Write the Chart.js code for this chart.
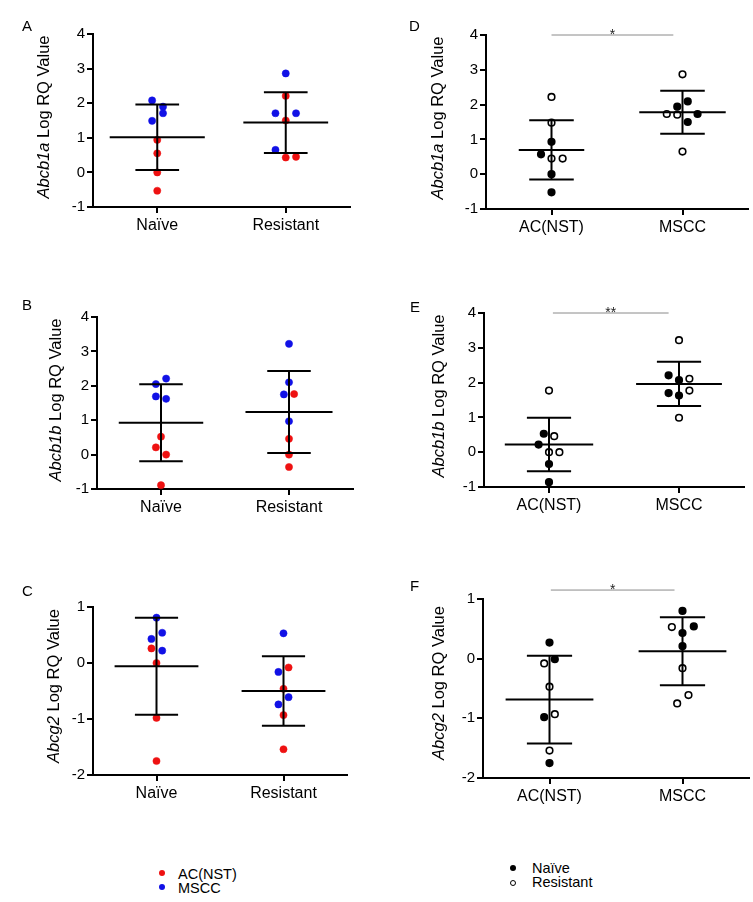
<!DOCTYPE html>
<html>
<head>
<meta charset="utf-8">
<script src="https://cdn.jsdelivr.net/npm/chart.js@4.4.0/dist/chart.umd.min.js"></script>
<style>
    body { margin: 0; background: #fff; font-family: Arial, "Liberation Sans", sans-serif; color: #000; }
    #page { position: relative; width: 753px; height: 902px; overflow: hidden; }
    canvas { position: absolute; }
    .ytitle { position: absolute; font-size: 16.5px; white-space: nowrap; transform: translate(-50%, -50%) rotate(-90deg); }
    .letter { position: absolute; font-size: 15px; line-height: 15px; }
    .leg { position: absolute; font-size: 14.5px; line-height: 14px; transform: translateY(-50%); }
    .dot { position: absolute; width: 6px; height: 6px; border-radius: 50%; transform: translate(-50%, -50%); box-sizing: border-box; }
</style>
</head>
<body>
<div id="page"></div>
<script>
// categories and tick labels
const catsTreat = ['Naïve', 'Resistant'];
const catsType = ['AC(NST)', 'MSCC'];
const ticksAbcb1 = [-1, 0, 1, 2, 3, 4];
const ticksAbcg2 = [-2, -1, 0, 1];

// A-C: dots coloured by tumour type (A = AC(NST), M = MSCC)
const aNaive = [2.08, 1.90, 1.71, 1.49, 0.94, 0.55, 0.00, -0.53];
const aNaiveKind = ['M', 'M', 'M', 'M', 'A', 'A', 'A', 'A'];
const aNaiveJit = [-0.04, 0.045, 0.045, -0.04, 0, 0, 0, 0];
const aRes = [2.86, 2.21, 1.71, 1.71, 1.50, 0.65, 0.43, 0.45];
const aResKind = ['M', 'A', 'M', 'M', 'A', 'M', 'A', 'A'];
const aResJit = [0, 0, -0.08, 0.08, 0, -0.08, 0, 0.08];

const bNaive = [2.21, 2.05, 1.69, 1.62, 0.52, 0.21, 0.00, -0.89];
const bNaiveKind = ['M', 'M', 'M', 'M', 'A', 'A', 'A', 'A'];
const bNaiveJit = [0.04, -0.04, -0.04, 0.04, 0, -0.04, 0.04, 0];
const bRes = [3.22, 2.10, 1.75, 1.76, 0.97, 0.46, 0.00, -0.36];
const bResKind = ['M', 'M', 'M', 'A', 'M', 'A', 'A', 'A'];
const bResJit = [0, 0, -0.04, 0.04, 0, 0, 0, 0];

const cNaive = [0.81, 0.54, 0.43, 0.26, 0.22, 0.00, -0.98, -1.75];
const cNaiveKind = ['M', 'M', 'M', 'A', 'M', 'A', 'A', 'A'];
const cNaiveJit = [0, 0.045, -0.04, -0.04, 0.045, 0, 0, 0];
const cRes = [0.53, -0.08, -0.16, -0.46, -0.61, -0.74, -0.93, -1.54];
const cResKind = ['M', 'A', 'M', 'A', 'M', 'M', 'A', 'A'];
const cResJit = [0, 0.04, -0.04, 0, 0.04, -0.04, 0, 0];

// D-F: filled = naive (N), open = resistant (R)
const dAC = [2.22, 1.48, 0.93, 0.57, 0.45, 0.45, 0.00, -0.52];
const dACKind = ['R', 'R', 'N', 'N', 'R', 'R', 'N', 'N'];
const dACJit = [0, 0, 0, -0.08, 0, 0.085, 0, 0];
const dMSCC = [2.87, 2.09, 1.94, 1.73, 1.71, 1.73, 1.50, 0.65];
const dMSCCKind = ['R', 'N', 'N', 'R', 'R', 'N', 'N', 'R'];
const dMSCCJit = [0, 0.04, -0.04, -0.12, -0.04, 0.115, 0.04, 0];

const eAC = [1.77, 0.53, 0.46, 0.22, 0.00, 0.00, -0.34, -0.86];
const eACKind = ['R', 'N', 'R', 'N', 'R', 'R', 'N', 'N'];
const eACJit = [0, -0.04, 0.04, -0.08, 0, 0.08, 0, 0];
const eMSCC = [3.22, 2.21, 2.07, 2.11, 1.70, 1.63, 1.77, 0.99];
const eMSCCKind = ['R', 'N', 'N', 'R', 'N', 'N', 'R', 'R'];
const eMSCCJit = [0, -0.08, 0, 0.08, -0.08, 0, 0.08, 0];

const fAC = [0.27, -0.01, -0.08, -0.47, -0.98, -0.93, -1.54, -1.75];
const fACKind = ['N', 'N', 'R', 'R', 'N', 'R', 'R', 'N'];
const fACJit = [0, 0.04, -0.04, 0, -0.04, 0.04, 0, 0];
const fMSCC = [0.80, 0.53, 0.54, 0.43, 0.21, -0.16, -0.61, -0.75];
const fMSCCKind = ['N', 'R', 'N', 'N', 'N', 'R', 'R', 'R'];
const fMSCCJit = [0, -0.08, 0.085, 0, 0, 0, 0.045, -0.04];

const RED = '#ee1111';
const BLUE = '#1111e6';

const panels = [
    { letter: 'A', gene: 'Abcb1a', area: [93, 34, 350, 207], cats: catsTreat, yTicks: ticksAbcb1, mode: 'color',
      groups: [[aNaive, aNaiveKind, aNaiveJit], [aRes, aResKind, aResJit]], meanHalf: [0.37, 0.33],
      titleAt: [43, 117], letterAt: [22, 18] },
    { letter: 'B', gene: 'Abcb1b', area: [97, 317, 353, 489], cats: catsTreat, yTicks: ticksAbcb1, mode: 'color',
      groups: [[bNaive, bNaiveKind, bNaiveJit], [bRes, bResKind, bResJit]], meanHalf: [0.33, 0.34],
      titleAt: [55, 400], letterAt: [22, 297] },
    { letter: 'C', gene: 'Abcg2', area: [93, 607, 347, 775], cats: catsTreat, yTicks: ticksAbcg2, mode: 'color',
      groups: [[cNaive, cNaiveKind, cNaiveJit], [cRes, cResKind, cResJit]], meanHalf: [0.33, 0.33],
      titleAt: [53, 686], letterAt: [22, 583] },
    { letter: 'D', gene: 'Abcb1a', area: [486, 35, 748, 209], cats: catsType, yTicks: ticksAbcb1, mode: 'fill',
      groups: [[dAC, dACKind, dACJit], [dMSCC, dMSCCKind, dMSCCJit]], meanHalf: [0.25, 0.33],
      titleAt: [437, 118], letterAt: [409, 18],
      sig: { x1: 1.0, x2: 1.93, y: 4, text: '*' } },
    { letter: 'E', gene: 'Abcb1b', area: [484, 313, 744, 487], cats: catsType, yTicks: ticksAbcb1, mode: 'fill',
      groups: [[eAC, eACKind, eACJit], [eMSCC, eMSCCKind, eMSCCJit]], meanHalf: [0.34, 0.33],
      titleAt: [438, 396], letterAt: [410, 299],
      sig: { x1: 1.03, x2: 1.92, y: 4, text: '**' } },
    { letter: 'F', gene: 'Abcg2', area: [483, 599, 749, 778], cats: catsType, yTicks: ticksAbcg2, mode: 'fill',
      groups: [[fAC, fACKind, fACJit], [fMSCC, fMSCCKind, fMSCCJit]], meanHalf: [0.33, 0.33],
      titleAt: [438, 683], letterAt: [410, 578],
      sig: { x1: 1.01, x2: 1.94, y: 1.15, text: '*' } }
];

const page = document.getElementById('page');

function mean(a) {
    return a.reduce((s, v) => s + v, 0) / a.length;
}

function stdev(a) {
    const m = mean(a);
    return Math.sqrt(a.reduce((s, v) => s + (v - m) * (v - m), 0) / (a.length - 1));
}

function seg(x1, y1, x2, y2, color, width) {
    return {
        type: 'line',
        data: [{ x: x1, y: y1 }, { x: x2, y: y2 }],
        borderColor: color,
        borderWidth: width,
        pointRadius: 0,
        showLine: true,
        fill: false,
        clip: false,
        order: 0
    };
}

// star(s) over the significance bar
const sigStar = {
    id: 'sigStar',
    afterDatasetsDraw(chart, args, opts) {
        if (!opts || !opts.text) return;
        const ctx = chart.ctx;
        const x = chart.scales.x.getPixelForValue((opts.x1 + opts.x2) / 2);
        const y = chart.scales.y.getPixelForValue(opts.y);
        ctx.save();
        ctx.font = '14px Arial';
        ctx.fillStyle = '#222';
        ctx.textAlign = 'center';
        ctx.textBaseline = 'alphabetic';
        ctx.fillText(opts.text, x, y + 3.5);
        ctx.restore();
    }
};

function addDiv(cls, html, left, top) {
    const d = document.createElement('div');
    d.className = cls;
    d.innerHTML = html;
    d.style.left = left + 'px';
    d.style.top = top + 'px';
    page.appendChild(d);
    return d;
}

function buildPanel(p) {
    const [L, T, R, B] = p.area;
    const padL = 60, padT = 20, padR = 10, padB = 45;
    const canvas = document.createElement('canvas');
    canvas.width = R - L + padL + padR;
    canvas.height = B - T + padT + padB;
    canvas.style.left = (L - padL) + 'px';
    canvas.style.top = (T - padT) + 'px';
    page.appendChild(canvas);

    const datasets = [];
    p.groups.forEach((g, gi) => {
        const [vals, kinds, jit] = g;
        const cx = gi + 1;
        let fills, borders;
        if (p.mode === 'color') {
            fills = kinds.map(k => (k === 'A' ? RED : BLUE));
            borders = fills;
        } else {
            fills = kinds.map(k => (k === 'N' ? '#000' : 'rgba(255,255,255,0)'));
            borders = kinds.map(() => '#000');
        }
        datasets.push({
            type: 'scatter',
            data: vals.map((v, i) => ({ x: cx + jit[i], y: v })),
            pointRadius: p.mode === 'color' ? 3.6 : 3.3,
            pointBorderWidth: p.mode === 'color' ? 0.5 : 1.6,
            pointBackgroundColor: fills,
            pointBorderColor: borders,
            clip: false,
            order: 1
        });
        const m = mean(vals);
        const sd = stdev(vals);
        const hw = p.meanHalf[gi];
        datasets.push(seg(cx - hw, m, cx + hw, m, '#000', 2));
        datasets.push(seg(cx, m - sd, cx, m + sd, '#000', 2));
        datasets.push(seg(cx - 0.17, m + sd, cx + 0.17, m + sd, '#000', 2));
        datasets.push(seg(cx - 0.17, m - sd, cx + 0.17, m - sd, '#000', 2));
    });
    if (p.sig) {
        datasets.push(seg(p.sig.x1, p.sig.y, p.sig.x2, p.sig.y, '#8a8a8a', 1));
    }

    const axisGrid = { drawOnChartArea: false, drawTicks: true, tickLength: 6, color: '#000', lineWidth: 2 };
    const axisBorder = { color: '#000', width: 2 };

    new Chart(canvas, {
        type: 'scatter',
        data: { datasets: datasets },
        plugins: [sigStar],
        options: {
            responsive: false,
            animation: false,
            devicePixelRatio: 1,
            layout: { padding: { left: 0, top: padT, right: padR, bottom: 0 } },
            plugins: {
                legend: { display: false },
                tooltip: { enabled: false },
                sigStar: p.sig || {}
            },
            scales: {
                x: {
                    type: 'linear',
                    min: 0.5,
                    max: 2.5,
                    afterBuildTicks: s => { s.ticks = [{ value: 1 }, { value: 2 }]; },
                    afterFit: s => { s.height = padB; },
                    ticks: {
                        callback: v => p.cats[Math.round(v) - 1],
                        font: { size: 16, family: 'Arial' },
                        color: '#000',
                        padding: 3,
                        maxRotation: 0,
                        autoSkip: false
                    },
                    grid: axisGrid,
                    border: axisBorder
                },
                y: {
                    type: 'linear',
                    min: p.yTicks[0],
                    max: p.yTicks[p.yTicks.length - 1],
                    afterBuildTicks: s => { s.ticks = p.yTicks.map(v => ({ value: v })); },
                    afterFit: s => { s.width = padL; },
                    ticks: { font: { size: 15, family: 'Arial' }, color: '#000', padding: 2 },
                    grid: axisGrid,
                    border: axisBorder
                }
            }
        }
    });

    addDiv('ytitle', '<i>' + p.gene + '</i> Log RQ Value', p.titleAt[0], p.titleAt[1]);
    addDiv('letter', p.letter, p.letterAt[0], p.letterAt[1]);
}

panels.forEach(buildPanel);

// legends under the panels
function legendDot(x, y, fill, border) {
    const d = document.createElement('div');
    d.className = 'dot';
    d.style.left = x + 'px';
    d.style.top = y + 'px';
    d.style.background = fill;
    if (border) d.style.border = '1.5px solid ' + border;
    page.appendChild(d);
}

legendDot(162, 873, RED);
addDiv('leg', 'AC(NST)', 178, 874);
legendDot(162, 887, BLUE);
addDiv('leg', 'MSCC', 178, 888);

legendDot(513, 868, '#000');
addDiv('leg', 'Naïve', 532, 868);
legendDot(513, 883, '#fff', '#000');
addDiv('leg', 'Resistant', 532, 882);
</script>
</body>
</html>
